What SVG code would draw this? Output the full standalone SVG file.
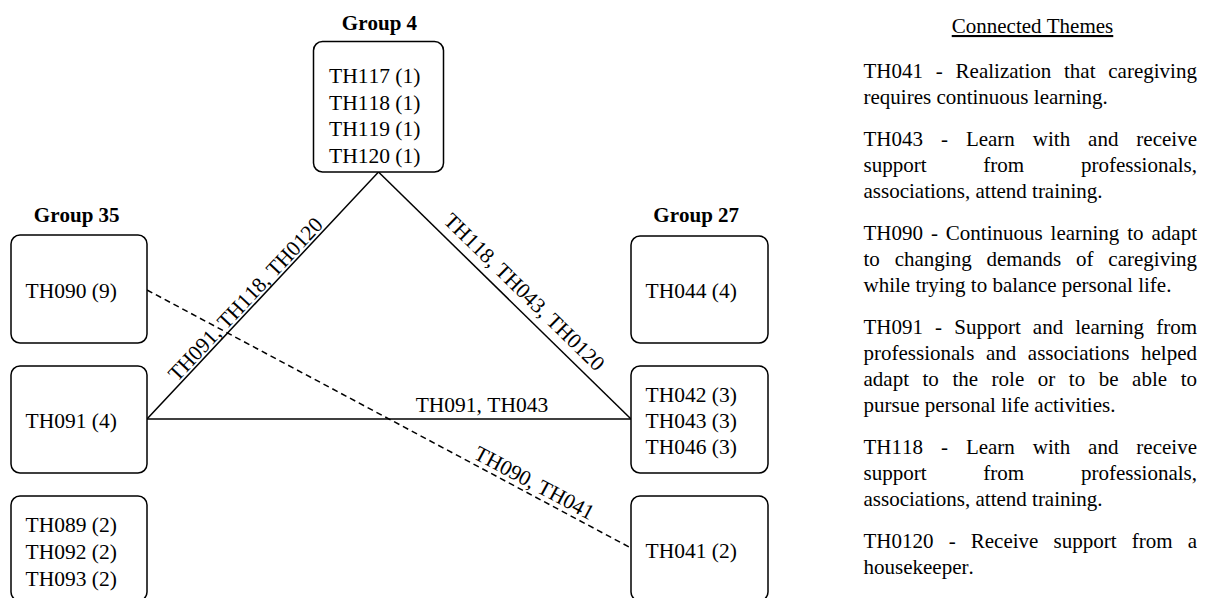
<svg xmlns="http://www.w3.org/2000/svg" width="1208" height="598" viewBox="0 0 1208 598">
<style>
.box{fill:#fff;stroke:#000;stroke-width:1.5}
.t{font-family:"Liberation Serif","Times New Roman",serif;font-size:21.5px;fill:#000;font-kerning:none}
.hd{font-weight:bold;font-size:21px}
.p{font-size:21px}
.edge{stroke:#000;stroke-width:1.5;fill:none}
.dash{stroke-dasharray:6 4}
</style>
<rect width="1208" height="598" fill="#fff"/>
<g id="connectors">
  <line class="edge" x1="147" y1="419" x2="378.5" y2="172"/>
  <line class="edge" x1="378.5" y1="172" x2="631" y2="419"/>
  <line class="edge" x1="147" y1="419" x2="631" y2="419"/>
  <line class="edge dash" x1="147" y1="290" x2="631" y2="548"/>
  <text class="t" text-anchor="middle" transform="translate(250.7 304.2) rotate(-46.85)">TH091, TH118, TH0120</text>
  <text class="t" text-anchor="middle" transform="translate(519.3 297.1) rotate(44.37)">TH118, TH043, TH0120</text>
  <text class="t" text-anchor="middle" x="482" y="412">TH091, TH043</text>
  <text class="t" text-anchor="middle" transform="translate(531.1 489.1) rotate(28.07)">TH090, TH041</text>
</g>
<g id="group4">
  <text class="t hd" text-anchor="middle" x="379.5" y="29.5">Group 4</text>
  <rect class="box" x="313.5" y="41.5" width="130" height="130.5" rx="9"/>
  <text class="t" x="329" y="83">TH117 (1)</text>
  <text class="t" x="329" y="109.5">TH118 (1)</text>
  <text class="t" x="329" y="136">TH119 (1)</text>
  <text class="t" x="329" y="162.5">TH120 (1)</text>
</g>
<g id="group35">
  <text class="t hd" text-anchor="middle" x="76.7" y="221.7">Group 35</text>
  <g id="g35-th090">
    <rect class="box" x="11" y="235" width="136" height="108" rx="9"/>
    <text class="t" x="25.5" y="298">TH090 (9)</text>
  </g>
  <g id="g35-th091">
    <rect class="box" x="11" y="366" width="136" height="107" rx="9"/>
    <text class="t" x="25.5" y="428.3">TH091 (4)</text>
  </g>
  <g id="g35-other">
    <rect class="box" x="11" y="496" width="136" height="105" rx="9"/>
    <text class="t" x="25.5" y="532.3">TH089 (2)</text>
    <text class="t" x="25.5" y="559.3">TH092 (2)</text>
    <text class="t" x="25.5" y="586">TH093 (2)</text>
  </g>
</g>
<g id="group27">
  <text class="t hd" text-anchor="middle" x="696.2" y="221.7">Group 27</text>
  <g id="g27-th044">
    <rect class="box" x="631" y="236" width="137" height="107" rx="9"/>
    <text class="t" x="645.5" y="298">TH044 (4)</text>
  </g>
  <g id="g27-th042">
    <rect class="box" x="631" y="366" width="137" height="107" rx="9"/>
    <text class="t" x="645.5" y="401.7">TH042 (3)</text>
    <text class="t" x="645.5" y="427.7">TH043 (3)</text>
    <text class="t" x="645.5" y="454">TH046 (3)</text>
  </g>
  <g id="g27-th041">
    <rect class="box" x="631" y="496" width="137" height="105" rx="9"/>
    <text class="t" x="645.5" y="558.3">TH041 (2)</text>
  </g>
</g>
<g id="legend">
  <text class="t p" text-anchor="middle" x="1032.5" y="33" text-decoration="underline">Connected Themes</text>
  <text class="t p" x="863.5" y="77.5" word-spacing="7.55">TH041 - Realization that caregiving</text>
  <text class="t p" x="863.5" y="103.5">requires continuous learning.</text>
  <text class="t p" x="863.5" y="145.5" word-spacing="12.7">TH043 - Learn with and receive</text>
  <text class="t p" x="863.5" y="171.5" word-spacing="51.55">support from professionals,</text>
  <text class="t p" x="863.5" y="197.5">associations, attend training.</text>
  <text class="t p" x="863.5" y="239.5" word-spacing="2.66">TH090 - Continuous learning to adapt</text>
  <text class="t p" x="863.5" y="265.5" word-spacing="9.6">to changing demands of caregiving</text>
  <text class="t p" x="863.5" y="291.5">while trying to balance personal life.</text>
  <text class="t p" x="863.5" y="333.5" word-spacing="6.86">TH091 - Support and learning from</text>
  <text class="t p" x="863.5" y="359.5" word-spacing="6.37">professionals and associations helped</text>
  <text class="t p" x="863.5" y="385.5" word-spacing="8.3">adapt to the role or to be able to</text>
  <text class="t p" x="863.5" y="411.5">pursue personal life activities.</text>
  <text class="t p" x="863.5" y="453.5" word-spacing="12.7">TH118 - Learn with and receive</text>
  <text class="t p" x="863.5" y="479.5" word-spacing="51.55">support from professionals,</text>
  <text class="t p" x="863.5" y="505.5">associations, attend training.</text>
  <text class="t p" x="863.5" y="547.5" word-spacing="9.9">TH0120 - Receive support from a</text>
  <text class="t p" x="863.5" y="573.5">housekeeper.</text>
</g>
</svg>
